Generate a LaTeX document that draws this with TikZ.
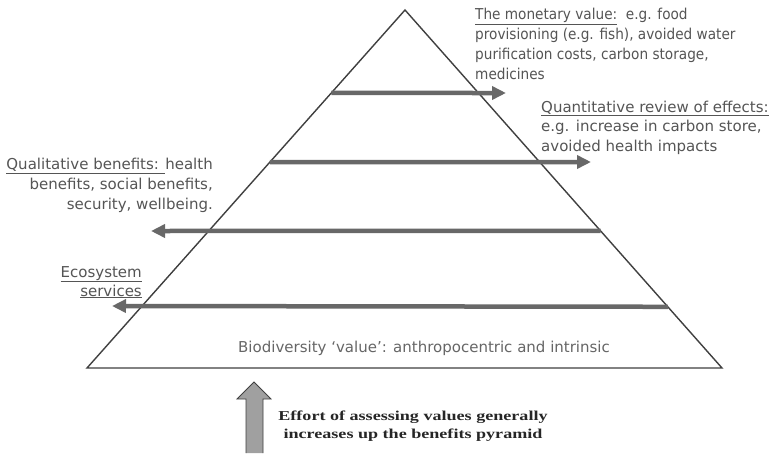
\documentclass[tikz,border=0pt]{standalone}
\usepackage{fontspec}
\setmainfont{DejaVu Sans}
\newfontfamily\narrowf{DejaVu Sans}[FakeStretch=0.91]
\newfontfamily\timesf{Liberation Serif}[FakeStretch=1.33]
\usetikzlibrary{arrows.meta,calc}
\definecolor{txtgray}{HTML}{555555}
\definecolor{linegray}{HTML}{404040}
\definecolor{arrgray}{HTML}{686868}
\definecolor{bigarr}{HTML}{A0A0A0}
\tikzset{
  lbl/.style={inner sep=0pt, text=txtgray, font=\fontsize{15}{19.7}\selectfont},
  flow/.style={draw=arrgray, line width=4.5pt, -{Triangle[length=14pt,width=13pt]}},
  edge/.style={draw=linegray, line width=1.4pt, line join=miter},
}
\begin{document}
\begin{tikzpicture}[x=1pt,y=-1pt]
\useasboundingbox (0,0) rectangle (774,453);
\fill[white] (0,0) rectangle (774,453);
% pyramid
\coordinate (apex) at (405,10);
\coordinate (bl) at (87,368);
\coordinate (br) at (722,368);
\draw[edge] (apex) -- (br) -- (bl) -- cycle;
% arrow end points
\coordinate (s1) at ($(apex)!0.2318!(bl)$);
\coordinate (t1) at (506,93);
\coordinate (s2) at ($(apex)!0.4246!(bl)$);
\coordinate (t2) at (591,162);
\coordinate (s3) at ($(apex)!0.617!(br)$);
\coordinate (t3) at (151,231);
\coordinate (s4) at ($(apex)!0.829!(br)$);
\coordinate (t4) at (112,306);
\draw[flow] (s1) -- (t1);
\draw[flow] (s2) -- (t2);
\draw[flow] (s3) -- (t3);
\draw[flow] (s4) -- (t4);
% labels (base anchor = baseline of the last line)
\node[lbl, anchor=base west, align=left, font=\narrowf\fontsize{15}{20}\selectfont] (mon) at (475,79.3)
 {\underline{The monetary value:}\ \ e.g. food\\provisioning (e.g. fish), avoided water\\purification costs, carbon storage,\\medicines};
\node[lbl, anchor=base west, align=left, font=\fontsize{15}{19.5}\selectfont] (quant) at (541,151)
 {\underline{Quantitative review of effects:}\\e.g. increase in carbon store,\\avoided health impacts};
\node[lbl, anchor=base east, align=right] (qual) at (213,209)
 {\underline{Qualitative benefits: }health\\benefits, social benefits,\\security, wellbeing.};
\node[lbl, anchor=base east, align=right, font=\fontsize{15}{19}\selectfont] (eco) at (142,296)
 {\underline{Ecosystem}\\\underline{services}};
\node[lbl, anchor=base, text=txtgray!90] (bio) at (424,352.5) {Biodiversity `value': anthropocentric and intrinsic};
% bottom arrow
\draw[draw=linegray, fill=bigarr, line width=0.8pt] (246,453) -- (246,399) -- (237,399) -- (254,382) coordinate (uptip) -- (271,399) -- (263,399) -- (263,453);
\node[inner sep=0pt, anchor=base, align=center, text=black!85, font=\timesf\bfseries\fontsize{13.6}{18}\selectfont] (effort) at (413,438)
 {Effort of assessing values generally\\increases up the benefits pyramid};
\end{tikzpicture}
\end{document}
